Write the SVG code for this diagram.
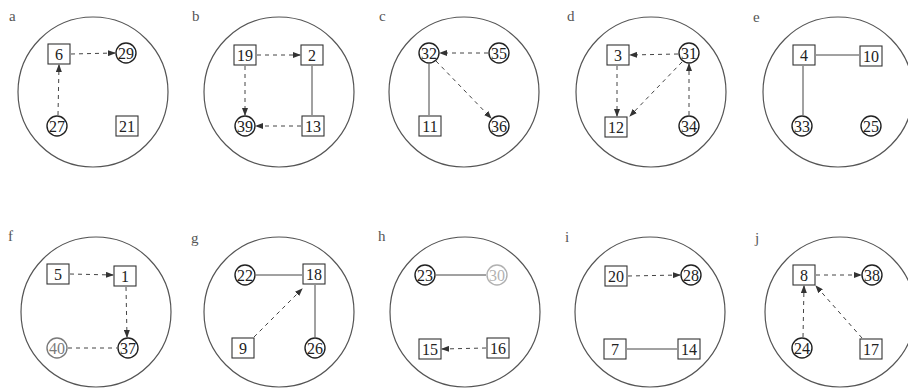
<svg xmlns="http://www.w3.org/2000/svg" width="908" height="390" viewBox="0 0 908 390">
<defs>
<marker id="ah" markerUnits="userSpaceOnUse" markerWidth="8" markerHeight="6" refX="7" refY="3" orient="auto"><path d="M0,0 L8,3 L0,6 z" fill="#333"/></marker>
<style>
.frame{fill:none;stroke:#555;stroke-width:1.2}
.lbl{font-family:"Liberation Serif",serif;font-size:15px;fill:#555}
.bx{fill:none;stroke:#333;stroke-width:1.1}
.ci{fill:none;stroke:#222;stroke-width:1.4}
.t{font-family:"Liberation Serif",serif;font-size:16px;fill:#222;text-anchor:middle;dominant-baseline:central}
.d{stroke:#444;stroke-width:1;stroke-dasharray:4 4;fill:none}
.da{stroke:#444;stroke-width:1;stroke-dasharray:4 4;fill:none;marker-end:url(#ah)}
.s{stroke:#444;stroke-width:1;fill:none}
.faint{opacity:0.35}
</style>
</defs>
<rect width="908" height="390" fill="#fff"/>
<g id="frames">
<circle class="frame" cx="93" cy="92" r="75"/>
<circle class="frame" cx="279" cy="92" r="75"/>
<circle class="frame" cx="464" cy="92" r="75"/>
<circle class="frame" cx="651" cy="92" r="75"/>
<circle class="frame" cx="838" cy="92" r="75"/>
<circle class="frame" cx="96" cy="312" r="75"/>
<circle class="frame" cx="279" cy="312" r="75"/>
<circle class="frame" cx="465" cy="312" r="75"/>
<circle class="frame" cx="650" cy="312" r="75"/>
<circle class="frame" cx="840" cy="312" r="75"/>
</g>
<g id="labels">
<text class="lbl" x="9" y="21">a</text>
<text class="lbl" x="192" y="21">b</text>
<text class="lbl" x="379" y="21">c</text>
<text class="lbl" x="567" y="21">d</text>
<text class="lbl" x="753" y="22">e</text>
<text class="lbl" x="8" y="241">f</text>
<text class="lbl" x="191" y="243">g</text>
<text class="lbl" x="378" y="241">h</text>
<text class="lbl" x="565" y="242">i</text>
<text class="lbl" x="755" y="243">j</text>
</g>
<g id="connectors">
<line class="da" x1="71" y1="54" x2="115" y2="53"/>
<line class="da" x1="58" y1="115" x2="59" y2="65"/>
<line class="da" x1="257" y1="55" x2="300" y2="55"/>
<line class="da" x1="245" y1="66" x2="245" y2="115"/>
<line class="s" x1="312" y1="66" x2="312" y2="115"/>
<line class="da" x1="301" y1="126" x2="256" y2="126"/>
<line class="da" x1="488" y1="53" x2="440" y2="53"/>
<line class="da" x1="436" y1="61" x2="491" y2="118"/>
<line class="s" x1="429" y1="64" x2="429" y2="115"/>
<line class="da" x1="678" y1="54" x2="630" y2="55"/>
<line class="da" x1="617" y1="66" x2="617" y2="116"/>
<line class="da" x1="682" y1="62" x2="630" y2="116"/>
<line class="da" x1="689" y1="115" x2="689" y2="64"/>
<line class="s" x1="816" y1="55" x2="859" y2="55"/>
<line class="s" x1="803" y1="66" x2="803" y2="115"/>
<line class="da" x1="70" y1="274" x2="113" y2="275"/>
<line class="da" x1="126" y1="287" x2="127" y2="337"/>
<line class="d" x1="68" y1="348" x2="117" y2="348"/>
<line class="s" x1="256" y1="275" x2="302" y2="275"/>
<line class="da" x1="254" y1="337" x2="302" y2="289"/>
<line class="s" x1="315" y1="285" x2="315" y2="337"/>
<line class="s" x1="436" y1="275" x2="486" y2="275"/>
<line class="da" x1="486" y1="348" x2="442" y2="349"/>
<line class="da" x1="628" y1="276" x2="680" y2="275"/>
<line class="s" x1="627" y1="349" x2="677" y2="349"/>
<line class="da" x1="816" y1="275" x2="861" y2="275"/>
<line class="da" x1="803" y1="337" x2="804" y2="286"/>
<line class="da" x1="862" y1="338" x2="816" y2="286"/>
</g>
<g id="n6"><rect class="bx" x="48" y="44" width="22" height="20"/><text class="t" x="59" y="54">6</text></g>
<g id="n29"><circle class="ci" cx="126" cy="53" r="10"/><text class="t" x="126" y="53">29</text></g>
<g id="n27"><circle class="ci" cx="57" cy="126" r="10"/><text class="t" x="57" y="126">27</text></g>
<g id="n21"><rect class="bx" x="116" y="116" width="22" height="20"/><text class="t" x="127" y="126">21</text></g>
<g id="n19"><rect class="bx" x="234" y="45" width="22" height="20"/><text class="t" x="245" y="55">19</text></g>
<g id="n2"><rect class="bx" x="301" y="45" width="22" height="20"/><text class="t" x="312" y="55">2</text></g>
<g id="n39"><circle class="ci" cx="245" cy="126" r="10"/><text class="t" x="245" y="126">39</text></g>
<g id="n13"><rect class="bx" x="302" y="116" width="22" height="20"/><text class="t" x="313" y="126">13</text></g>
<g id="n32"><circle class="ci" cx="429" cy="53" r="10"/><text class="t" x="429" y="53">32</text></g>
<g id="n35"><circle class="ci" cx="499" cy="53" r="10"/><text class="t" x="499" y="53">35</text></g>
<g id="n11"><rect class="bx" x="419" y="116" width="22" height="20"/><text class="t" x="430" y="126">11</text></g>
<g id="n36"><circle class="ci" cx="499" cy="126" r="10"/><text class="t" x="499" y="126">36</text></g>
<g id="n3"><rect class="bx" x="607" y="45" width="22" height="20"/><text class="t" x="618" y="55">3</text></g>
<g id="n31"><circle class="ci" cx="689" cy="53" r="10"/><text class="t" x="689" y="53">31</text></g>
<g id="n12"><rect class="bx" x="605" y="117" width="22" height="20"/><text class="t" x="616" y="127">12</text></g>
<g id="n34"><circle class="ci" cx="689" cy="126" r="10"/><text class="t" x="689" y="126">34</text></g>
<g id="n4"><rect class="bx" x="793" y="45" width="22" height="20"/><text class="t" x="804" y="55">4</text></g>
<g id="n10"><rect class="bx" x="860" y="46" width="22" height="20"/><text class="t" x="871" y="56">10</text></g>
<g id="n33"><circle class="ci" cx="802" cy="126" r="10"/><text class="t" x="802" y="126">33</text></g>
<g id="n25"><circle class="ci" cx="871" cy="126" r="10"/><text class="t" x="871" y="126">25</text></g>
<g id="n5"><rect class="bx" x="47" y="264" width="22" height="20"/><text class="t" x="58" y="274">5</text></g>
<g id="n1"><rect class="bx" x="114" y="266" width="22" height="20"/><text class="t" x="125" y="276">1</text></g>
<g id="n40" opacity="0.6"><circle class="ci" cx="57" cy="348" r="10"/><text class="t" x="57" y="348">40</text></g>
<g id="n37"><circle class="ci" cx="128" cy="348" r="10"/><text class="t" x="128" y="348">37</text></g>
<g id="n22"><circle class="ci" cx="245" cy="275" r="10"/><text class="t" x="245" y="275">22</text></g>
<g id="n18"><rect class="bx" x="303" y="264" width="22" height="20"/><text class="t" x="314" y="274">18</text></g>
<g id="n9"><rect class="bx" x="232" y="338" width="22" height="20"/><text class="t" x="243" y="348">9</text></g>
<g id="n26"><circle class="ci" cx="315" cy="348" r="10"/><text class="t" x="315" y="348">26</text></g>
<g id="n23"><circle class="ci" cx="425" cy="275" r="10"/><text class="t" x="425" y="275">23</text></g>
<g id="n30" class="faint"><circle class="ci" cx="497" cy="275" r="10"/><text class="t" x="497" y="275">30</text></g>
<g id="n15"><rect class="bx" x="419" y="339" width="22" height="20"/><text class="t" x="430" y="349">15</text></g>
<g id="n16"><rect class="bx" x="487" y="338" width="22" height="20"/><text class="t" x="498" y="348">16</text></g>
<g id="n20"><rect class="bx" x="605" y="266" width="22" height="20"/><text class="t" x="616" y="276">20</text></g>
<g id="n28"><circle class="ci" cx="691" cy="275" r="10"/><text class="t" x="691" y="275">28</text></g>
<g id="n7"><rect class="bx" x="604" y="339" width="22" height="20"/><text class="t" x="615" y="349">7</text></g>
<g id="n14"><rect class="bx" x="678" y="339" width="22" height="20"/><text class="t" x="689" y="349">14</text></g>
<g id="n8"><rect class="bx" x="793" y="265" width="22" height="20"/><text class="t" x="804" y="275">8</text></g>
<g id="n38"><circle class="ci" cx="872" cy="275" r="10"/><text class="t" x="872" y="275">38</text></g>
<g id="n24"><circle class="ci" cx="802" cy="348" r="10"/><text class="t" x="802" y="348">24</text></g>
<g id="n17"><rect class="bx" x="860" y="339" width="22" height="20"/><text class="t" x="871" y="349">17</text></g>
</svg>
